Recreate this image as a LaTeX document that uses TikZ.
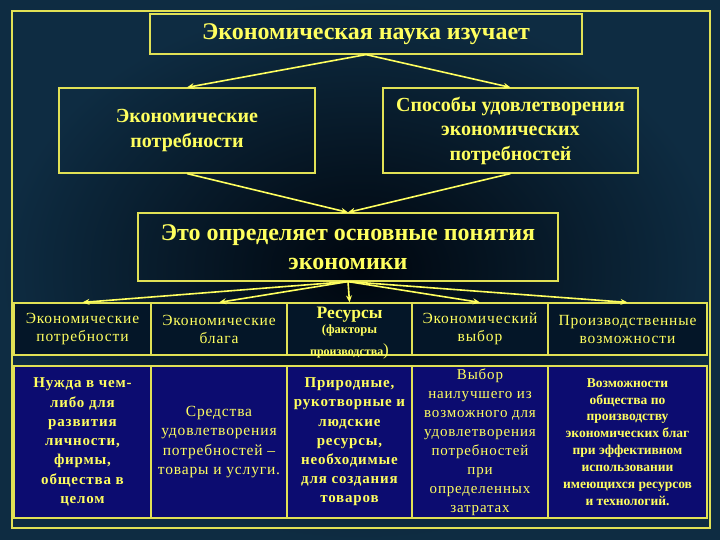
\documentclass[tikz,border=0pt]{standalone}
\usepackage{fontspec}
\setmainfont{Liberation Serif}
\newfontfamily\wfont[LetterSpace=5.5]{Liberation Serif}
\usetikzlibrary{arrows.meta}
\definecolor{ylw}{RGB}{255,255,95}
\definecolor{frm}{RGB}{225,225,85}
\definecolor{cellblue}{RGB}{12,12,112}
\definecolor{hdr}{RGB}{4,22,40}
\definecolor{bgout}{RGB}{14,44,66}
\definecolor{bgin}{RGB}{0,6,14}
\begin{document}
\begin{tikzpicture}[x=1pt,y=-1pt,
  box/.style={draw=frm,line width=1.2pt,inner sep=0pt,text=ylw,align=center},
  hcell/.style={box,fill=hdr,minimum height=52pt,font=\wfont\fontsize{15.5}{18}\selectfont},
  bcell/.style={box,fill=cellblue,minimum height=152pt},
  arr/.style={draw=ylw,line width=1.6pt,-{Stealth[length=7pt,width=6pt]}},
  ]
\shade[outer color=bgout,inner color=bgin] (0,0) rectangle (720,540);
\useasboundingbox (0,0) rectangle (720,540);
\draw[frm,line width=1.6pt] (12,11) rectangle (710,528);

\node[box,minimum width=432pt,minimum height=40pt,font=\fontsize{24}{26}\selectfont\bfseries] (top) at (366,34) {Экономическая наука изучает};
\node[box,minimum width=256pt,minimum height=85pt,font=\fontsize{20}{25}\selectfont\bfseries] (need) at (187,130.5) {Экономические\\потребности};
\node[box,minimum width=255pt,minimum height=85pt,font=\fontsize{20}{24.5}\selectfont\bfseries] (ways) at (510.5,130.5) {Способы удовлетворения\\экономических\\потребностей};
\node[box,minimum width=420pt,minimum height=68pt,font=\fontsize{24}{29}\selectfont\bfseries] (def) at (348,247) {Это определяет основные понятия\\экономики};

\node[hcell,minimum width=137pt] (h1) at (82.5,329) {Экономические\\потребности};
\node[hcell,minimum width=136pt] (h2) at (219,329) {Экономические\\блага};
\node[hcell,minimum width=125pt] (h3) at (349.5,329) {};
\node[text=ylw,align=center,inner sep=0pt] (h3t) at (349.5,333) {{\fontsize{17.5}{19}\selectfont\bfseries Ресурсы}\\[2pt]{\fontsize{12.5}{13}\selectfont\bfseries (факторы}\\[6pt]{\fontsize{12}{13}\selectfont\bfseries производства}{\fontsize{17}{13}\selectfont)}};
\node[hcell,minimum width=136pt] (h4) at (480,329) {Экономический\\выбор};
\node[hcell,minimum width=159pt] (h5) at (627.5,329) {Производственные\\возможности};

\node[bcell,minimum width=137pt,font=\wfont\fontsize{15}{19.3}\selectfont\bfseries] (b1) at (82.5,442) {Нужда в чем-\\либо для\\развития\\личности,\\фирмы,\\общества в\\целом};
\node[bcell,minimum width=136pt,font=\wfont\fontsize{15.5}{19.5}\selectfont] (b2) at (219,442) {Средства\\удовлетворения\\потребностей –\\товары и услуги.};
\node[bcell,minimum width=125pt,font=\wfont\fontsize{15}{19.2}\selectfont\bfseries] (b3) at (349.5,442) {Природные,\\рукотворные и\\людские\\ресурсы,\\необходимые\\для создания\\товаров};
\node[bcell,minimum width=136pt,font=\wfont\fontsize{15}{19}\selectfont] (b4) at (480,442) {Выбор\\наилучшего из\\возможного для\\удовлетворения\\потребностей\\при\\определенных\\затратах};
\node[bcell,minimum width=159pt,font=\fontsize{13.5}{16.9}\selectfont\bfseries] (b5) at (627.5,442) {Возможности\\общества по\\производству\\экономических благ\\при эффективном\\использовании\\имеющихся ресурсов\\и технологий.};

\draw[arr] (top.south) -- (need.north);
\draw[arr] (top.south) -- (ways.north);
\draw[arr] (need.south) -- (def.north);
\draw[arr] (ways.south) -- (def.north);
\foreach \c in {h1,h2,h3,h4,h5} \draw[arr] (def.south) -- (\c.north);
\end{tikzpicture}
\end{document}
